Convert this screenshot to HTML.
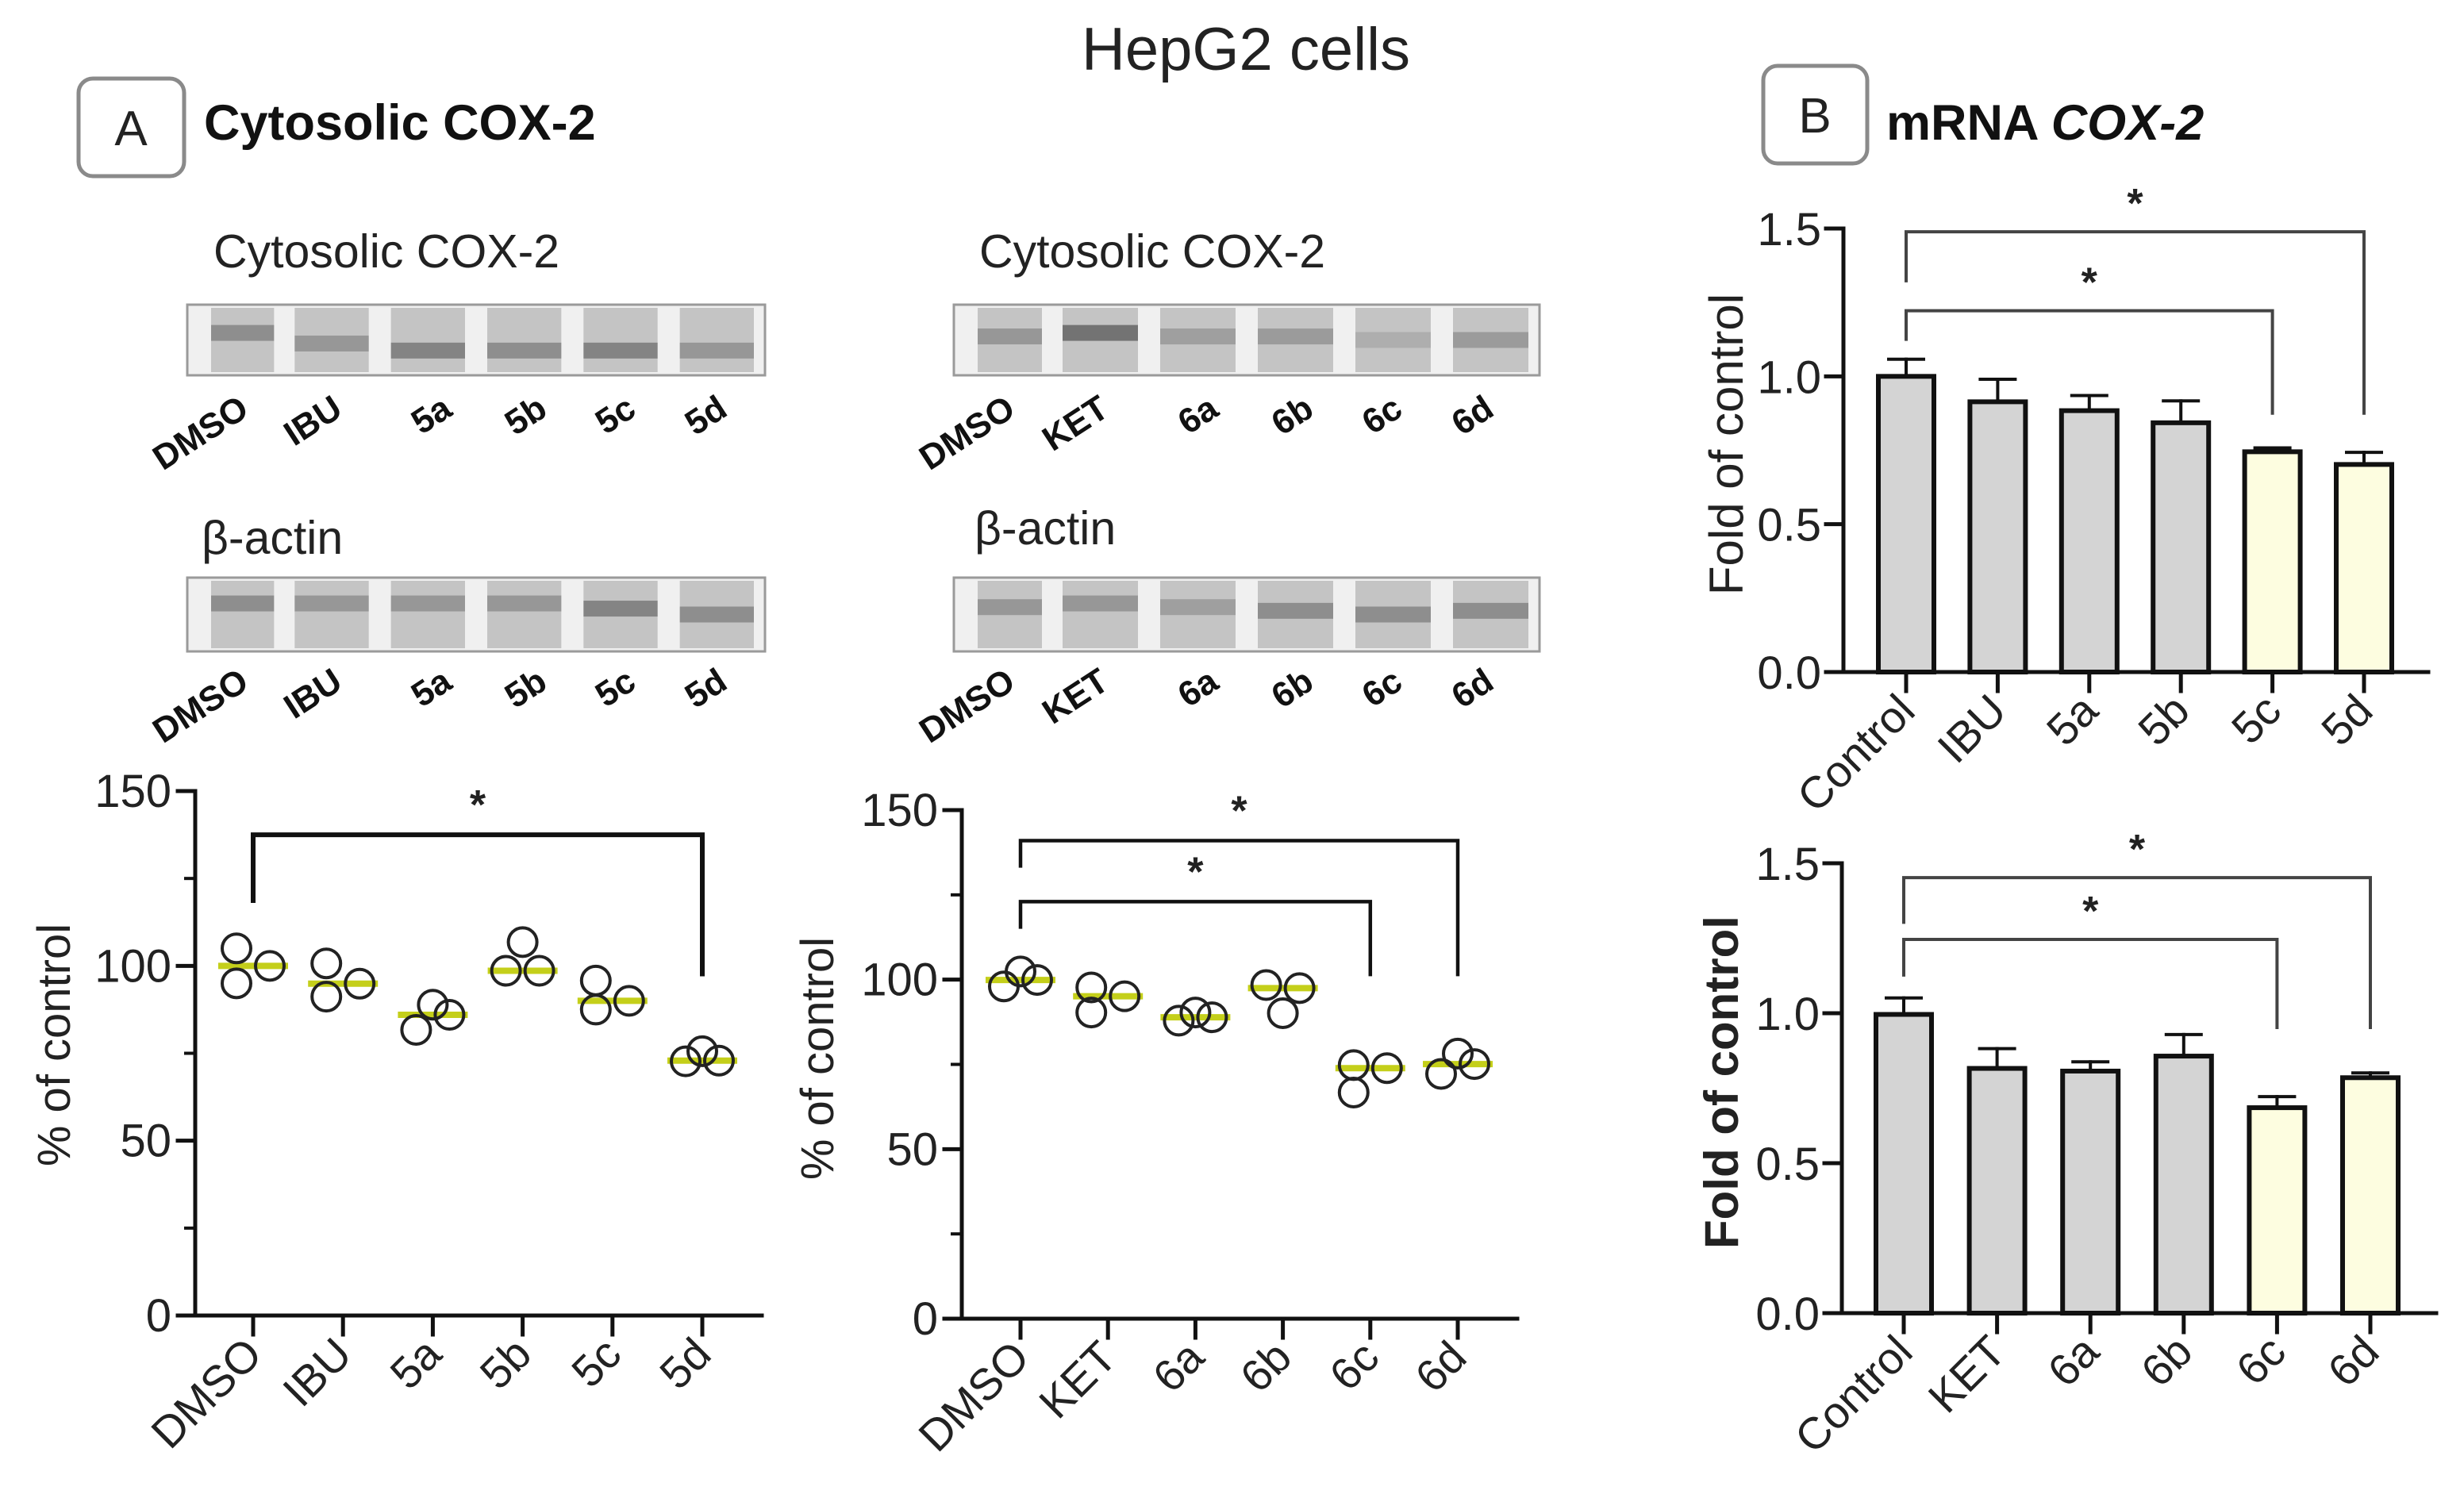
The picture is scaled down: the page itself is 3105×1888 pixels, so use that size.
<!DOCTYPE html>
<html><head><meta charset="utf-8"><style>
html,body{margin:0;padding:0;background:#fff;}
svg{display:block;font-family:"Liberation Sans",Arial,sans-serif;}
</style></head><body>
<svg id="fig" xmlns="http://www.w3.org/2000/svg" width="3105" height="1888" viewBox="0 0 3105 1888">
<rect x="0" y="0" width="3105" height="1888" fill="#fff"/>
<text x="1570" y="88" font-size="76" text-anchor="middle" fill="#222">HepG2 cells</text>
<rect x="99" y="99" width="133" height="123" rx="18" fill="none" stroke="#8a8a8a" stroke-width="5"/>
<text x="165" y="183" font-size="62" text-anchor="middle" fill="#222">A</text>
<text x="257" y="176" font-size="63" font-weight="bold" fill="#111">Cytosolic COX-2</text>
<rect x="2222" y="83" width="131" height="123" rx="18" fill="none" stroke="#8a8a8a" stroke-width="5"/>
<text x="2287" y="167" font-size="62" text-anchor="middle" fill="#222">B</text>
<text x="2377" y="176" font-size="63" font-weight="bold" fill="#111">mRNA <tspan font-style="italic">COX-2</tspan></text>
<g id="blots"></g>
<g id="charts"></g>
</svg>
<script>
// ---- Data ----
const a1Cats = ["DMSO","IBU","5a","5b","5c","5d"];
const a1Vals = [[105,95,100],[100.7,91.2,94.9],[81.7,88.9,86],[106.8,98.6,98.6],[95.8,87.5,90],[72.7,75.6,72.9]];
const a2Cats = ["DMSO","KET","6a","6b","6c","6d"];
const a2Vals = [[98,102.4,99.9],[97.7,90.3,95.1],[87.9,90.3,88.9],[98.4,90.1,97.5],[74.8,66.7,73.9],[72.2,78.2,75.1]];
const pctTicks = [0,50,100,150];
const pctMinor = [25,75,125];
const b1Cats = ["Control","IBU","5a","5b","5c","5d"];
const b1Means = [1.0,0.914,0.884,0.843,0.745,0.702];
const b1Errs = [0.058,0.076,0.051,0.074,0.013,0.041];
const b2Cats = ["Control","KET","6a","6b","6c","6d"];
const b2Means = [0.996,0.816,0.807,0.857,0.685,0.785];
const b2Errs = [0.055,0.066,0.031,0.072,0.037,0.016];
const foldTicks = ["0.0","0.5","1.0","1.5"];
const yellowIdx = [4,5];
const blotLeftLanes = ["DMSO","IBU","5a","5b","5c","5d"];
const blotRightLanes = ["DMSO","KET","6a","6b","6c","6d"];

const NS="http://www.w3.org/2000/svg";
function mk(tag,attrs,parent,txt){const e=document.createElementNS(NS,tag);for(const k in attrs)e.setAttribute(k,attrs[k]);if(txt!==undefined)e.textContent=txt;parent.appendChild(e);return e;}
const charts=document.getElementById('charts');
const blots=document.getElementById('blots');

// ---- Blots ----
function blot(x,y,w,h,lanes,bandY,dark,name){
  const g=mk('g',{},blots);
  
  
  mk('rect',{x:x,y:y,width:w,height:h,fill:'#f0f0f0',stroke:'#9a9a9a','stroke-width':3},g);
  const lw=w/6;
  for(let i=0;i<6;i++){
    const lx=x+i*lw+ (i==0?30:14), lwid=lw-(i==0?42:28);
    const r=mk('rect',{x:lx,y:y+4,width:lwid,height:h-8,fill:'#c4c4c4'},g);
    
    
    mk('rect',{x:lx,y:y+h*bandY[i]-10,width:lwid,height:20,fill:'#6a6a6a',opacity:dark[i]},g);
  }
}
function laneLabels(x,y,lanes,name){
  const ends=[80,198,336,456,568,683];
  lanes.forEach((l,i)=>{
    const t=mk('text',{x:x+ends[i],y:y,'font-size':44,'font-weight':'bold','text-anchor':'end',fill:'#111',transform:`rotate(-33 ${x+ends[i]} ${y})`},blots,l);
    
    
  });
}
function blotTitle(x,y,s,name){const t=mk('text',{x:x,y:y,'font-size':59,fill:'#222'},blots,s);}
blotTitle(269,337,'Cytosolic COX-2','left-cox2-label');
blot(236,384,728,89,6,[0.4,0.55,0.65,0.65,0.65,0.65],[0.6,0.5,0.7,0.6,0.7,0.5],'left-cox2-blot');
laneLabels(236,522,blotLeftLanes,'left-cox2-lane-label');
blotTitle(254,698,'β-actin','left-actin-label');
blot(236,728,728,93,6,[0.35,0.35,0.35,0.35,0.42,0.5],[0.6,0.5,0.5,0.5,0.7,0.6],'left-actin-blot');
laneLabels(236,866,blotLeftLanes,'left-actin-lane-label');
blotTitle(1234,337,'Cytosolic COX-2','right-cox2-label');
blot(1202,384,738,89,6,[0.45,0.4,0.45,0.45,0.5,0.5],[0.5,0.9,0.4,0.45,0.25,0.45],'right-cox2-blot');
laneLabels(1202,522,blotRightLanes,'right-cox2-lane-label');
blotTitle(1228,686,'β-actin','right-actin-label');
blot(1202,728,738,93,6,[0.4,0.35,0.4,0.45,0.5,0.45],[0.5,0.5,0.4,0.6,0.6,0.6],'right-actin-blot');
laneLabels(1202,866,blotRightLanes,'right-actin-lane-label');

// ---- Axes helpers ----
function text(x,y,s,size,anchor,name,extra){const t=mk('text',Object.assign({x:x,y:y,'font-size':size,'text-anchor':anchor,fill:'#222'},extra||{}),charts,s);return t;}
function line(x1,y1,x2,y2,w,c,name){const l=mk('line',{x1:x1,y1:y1,x2:x2,y2:y2,stroke:c||'#111','stroke-width':w,'stroke-linecap':'square'},charts);return l;}
function bracket(x1,x2,yTop,yl,yr,w,c,name){const p=mk('path',{d:`M${x1} ${yl} V${yTop} H${x2} V${yr}`,fill:'none',stroke:c,'stroke-width':w},charts);}
function median(a){const s=a.slice().sort((p,q)=>p-q);return s[Math.floor(s.length/2)];}

function scatterChart(o){
  const y=v=>o.y0-(v/150)*(o.y0-o.y150);
  const x=i=>o.x0+i*o.step;
  line(o.ax,o.y150,o.ax,o.y0,5,'#111','y-axis');
  line(o.ax-22,o.y0,o.xEnd,o.y0,5,'#111','x-axis');
  pctTicks.forEach(v=>{line(o.ax-22,y(v),o.ax,y(v),5,'#111','y-tick');text(o.ax-30,y(v)+20,String(v),58,'end','y-tick-label');});
  pctMinor.forEach(v=>line(o.ax-12,y(v),o.ax,y(v),4,'#111','y-minor-tick'));
  text(o.titleX,o.titleY,'% of control',58,'middle','y-axis-title',{transform:`rotate(-90 ${o.titleX} ${o.titleY})`});
  o.cats.forEach((c,i)=>{
    line(x(i),o.y0,x(i),o.y0+24,5,'#111','x-tick');
    const lx=x(i)+14, ly=o.y0+52;
    text(lx,ly,c,56,'end','x-tick-label',{transform:`rotate(-45 ${lx} ${ly})`});
    const vals=o.vals[i];
    const m=median(vals);
    line(x(i)-40,y(m),x(i)+40,y(m),8,'#c4cf1a','median-line');
    vals.forEach((v,j)=>{
      const c2=mk('circle',{cx:x(i)+o.jit[i][j],cy:y(v),r:18,fill:'none',stroke:'#222','stroke-width':4},charts);
      
      
    });
  });
  o.brackets.forEach(b=>{
    bracket(x(b.a),x(b.b),y(b.top),y(b.l),y(b.r),o.bw,'#111','significance-bracket');
    text((x(b.a)+x(b.b))/2,y(b.top)-20,'*',52,'middle','significance-star',{'font-weight':'bold'});
  });
}
scatterChart({cats:a1Cats,vals:a1Vals,ax:246,y0:1658,y150:997,x0:319,step:113.2,xEnd:960,titleX:88,titleY:1317,
  jit:[[-21,-21,21],[-21,-21,21],[-21,0,21],[0,-21,21],[-21,-21,21],[-21,0,21]],
  brackets:[{a:0,b:5,top:137.5,l:118,r:97}],bw:6});
scatterChart({cats:a2Cats,vals:a2Vals,ax:1212,y0:1662,y150:1021,x0:1286,step:110.2,xEnd:1912,titleX:1050,titleY:1334,
  jit:[[-21,0,21],[-21,-21,21],[-21,0,21],[-21,0,21],[-21,-21,21],[-21,0,21]],
  brackets:[{a:0,b:5,top:141,l:133,r:101},{a:0,b:4,top:123,l:115,r:101}],bw:4.5});

function barChart(o){
  const y=v=>o.y0-(v/1.5)*(o.y0-o.y15);
  const x=i=>o.x0+i*o.step;
  line(o.ax,o.y15,o.ax,o.y0,5,'#111','y-axis');
  line(o.ax-22,o.y0,o.xEnd,o.y0,5,'#111','x-axis');
  foldTicks.forEach(t=>{const v=parseFloat(t);line(o.ax-22,y(v),o.ax,y(v),5,'#111','y-tick');text(o.ax-28,y(v)+21,t,58,'end','y-tick-label');});
  text(o.titleX,o.titleY,'Fold of control',o.titleSize,'middle','y-axis-title',Object.assign({transform:`rotate(-90 ${o.titleX} ${o.titleY})`},o.titleBold?{'font-weight':'bold'}:{}));
  o.cats.forEach((c,i)=>{
    const m=o.means[i], e=o.errs[i];
    line(x(i),y(m),x(i),y(m+e),4,'#111','error-bar');
    line(x(i)-22,y(m+e),x(i)+22,y(m+e),4,'#111','error-cap');
    const r=mk('rect',{x:x(i)-35,y:y(m),width:70,height:o.y0-y(m),fill:yellowIdx.includes(i)?'#fdfde0':'#d4d4d4',stroke:'#111','stroke-width':6},charts);
    
    
    line(x(i),o.y0,x(i),o.y0+24,5,'#111','x-tick');
    const lx=x(i)+14, ly=o.y0+52;
    text(lx,ly,c,56,'end','x-tick-label',{transform:`rotate(-45 ${lx} ${ly})`});
  });
  o.brackets.forEach(b=>{
    bracket(x(b.a),x(b.b),y(b.top),y(b.l),y(b.r),4,'#444','significance-bracket');
    text((x(b.a)+x(b.b))/2,y(b.top)-18,'*',52,'middle','significance-star',{'font-weight':'bold'});
  });
}
barChart({cats:b1Cats,means:b1Means,errs:b1Errs,ax:2323,y0:847,y15:288,x0:2402,step:115.4,xEnd:3060,titleX:2196,titleY:560,titleSize:60,titleBold:false,
  brackets:[{a:0,b:5,top:1.489,l:1.318,r:0.87},{a:0,b:4,top:1.222,l:1.12,r:0.87}]});
barChart({cats:b2Cats,means:b2Means,errs:b2Errs,ax:2321,y0:1655,y15:1088,x0:2399,step:117.6,xEnd:3070,titleX:2190,titleY:1364,titleSize:60,titleBold:true,
  brackets:[{a:0,b:5,top:1.452,l:1.298,r:0.947},{a:0,b:4,top:1.246,l:1.122,r:0.947}]});
</script>
</body></html>
